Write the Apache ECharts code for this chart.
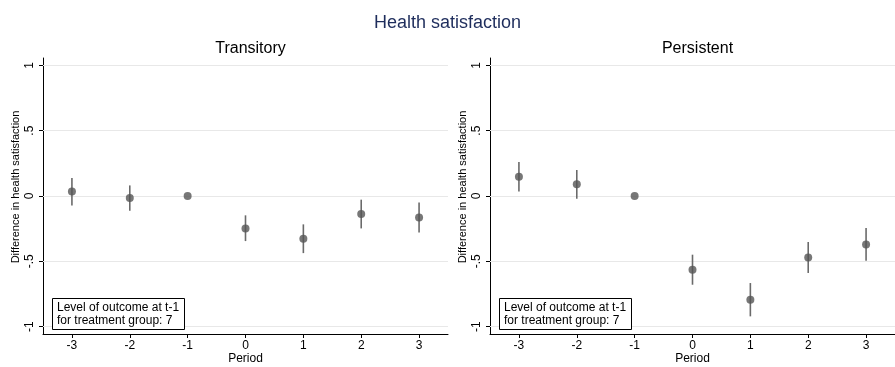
<!DOCTYPE html>
<html>
<head>
<meta charset="utf-8">
<script src="https://cdn.jsdelivr.net/npm/echarts@6/dist/echarts.min.js"></script>
<style>
html,body{margin:0;padding:0;background:#fff;}
#chart{width:895px;height:367px;}
</style>
</head>
<body>
<div id="chart"></div>
<script>
// ---- data ----
const periods = [-3, -2, -1, 0, 1, 2, 3];
const transEst = [0.035, -0.015, 0, -0.248, -0.327, -0.138, -0.164];
const transLo  = [-0.072, -0.113, null, -0.345, -0.437, -0.248, -0.279];
const transHi  = [0.138, 0.081, null, -0.148, -0.217, -0.028, -0.049];
const persEst  = [0.148, 0.089, 0, -0.564, -0.794, -0.470, -0.371];
const persLo   = [0.035, -0.021, null, -0.679, -0.921, -0.589, -0.495];
const persHi   = [0.260, 0.199, null, -0.449, -0.666, -0.352, -0.245];
const yTicks = [-1, -0.5, 0, 0.5, 1];
const xTicks = [-3, -2, -1, 0, 1, 2, 3];
const panelTitles = ['Transitory', 'Persistent'];
const mainTitle = 'Health satisfaction';
const noteText = 'Level of outcome at t-1\nfor treatment group: 7';
const yName = 'Difference in health satisfaction';
const xName = 'Period';

const FONT = '"Liberation Sans", Arial, Helvetica, sans-serif';
const grids = [
  {left: 43, top: 58, width: 405, bottom: 33, outerBoundsMode: 'none', containLabel: false},
  {left: 490, top: 58, width: 405, bottom: 33, outerBoundsMode: 'none', containLabel: false}
];
const fmtY = v => {
  let s = String(v);
  return s.replace(/^0\./, '.').replace(/^-0\./, '-.');
};

function makeX(i) {
  return {
    type: 'value', gridIndex: i, min: -3.5, max: 3.5,
    name: xName, nameLocation: 'middle', nameGap: 19, nameMoveOverlap: false,
    nameTextStyle: {fontFamily: FONT, fontSize: 12, color: '#000'},
    axisLine: {show: true, onZero: false, lineStyle: {color: '#000', width: 1}},
    axisTick: {show: true, length: 4, customValues: xTicks, lineStyle: {color: '#000'}},
    axisLabel: {customValues: xTicks, margin: 6, fontFamily: FONT, fontSize: 12, color: '#000'},
    splitLine: {show: false}
  };
}
function makeY(i) {
  return {
    type: 'value', gridIndex: i, min: -1.056, max: 1.056,
    name: yName, nameLocation: 'middle', nameGap: 22,
    nameTextStyle: {fontFamily: FONT, fontSize: 11, color: '#000', padding: [0, 0, 0, 18]},
    axisLine: {show: true, onZero: false, lineStyle: {color: '#000', width: 1}},
    axisTick: {show: true, length: 4, customValues: yTicks, lineStyle: {color: '#000'}},
    axisLabel: {customValues: yTicks, rotate: 90, margin: 7, fontFamily: FONT, fontSize: 12, color: '#000', formatter: fmtY},
    splitLine: {show: false}
  };
}
function ciSeries(i, lo, hi) {
  const data = [];
  periods.forEach((p, k) => { if (lo[k] !== null) data.push([p, lo[k], hi[k]]); });
  return {
    type: 'custom', xAxisIndex: i, yAxisIndex: i, silent: true, z: 3,
    data: data,
    encode: {x: 0, y: [1, 2]},
    renderItem: function (params, api) {
      const a = api.coord([api.value(0), api.value(1)]);
      const b = api.coord([api.value(0), api.value(2)]);
      return {type: 'line', shape: {x1: a[0], y1: a[1], x2: b[0], y2: b[1]},
        style: {stroke: '#6a6a6a', lineWidth: 1.6}};
    }
  };
}
function ptSeries(i, est) {
  return {
    type: 'scatter', xAxisIndex: i, yAxisIndex: i, z: 4,
    symbol: 'circle', symbolSize: 8,
    itemStyle: {color: '#555555'},
    data: periods.map((p, k) => [p, est[k]]),
    markLine: {
      silent: true, symbol: 'none', label: {show: false}, z: 1,
      lineStyle: {color: '#e8e8e8', width: 1, type: 'solid'},
      data: yTicks.map(v => ({yAxis: v}))
    }
  };
}

const chart = echarts.init(document.getElementById('chart'), null, {renderer: 'canvas'});
chart.setOption({
  animation: false,
  backgroundColor: '#fff',
  title: [
    {text: mainTitle, left: 'center', top: 9, textStyle: {fontFamily: FONT, fontSize: 18, fontWeight: 'normal', color: '#1e2d5c'}},
    {text: panelTitles[0], left: 245.5, textAlign: 'center', top: 36, textStyle: {fontFamily: FONT, fontSize: 16, fontWeight: 'normal', color: '#000'}},
    {text: panelTitles[1], left: 692.5, textAlign: 'center', top: 36, textStyle: {fontFamily: FONT, fontSize: 16, fontWeight: 'normal', color: '#000'}},
    {text: noteText, left: 52, top: 298, padding: [3, 6, 3, 5], borderWidth: 1, borderColor: '#000', backgroundColor: '#fff',
      textStyle: {fontFamily: FONT, fontSize: 12, lineHeight: 13, fontWeight: 'normal', color: '#000'}},
    {text: noteText, left: 499, top: 298, padding: [3, 6, 3, 5], borderWidth: 1, borderColor: '#000', backgroundColor: '#fff',
      textStyle: {fontFamily: FONT, fontSize: 12, lineHeight: 13, fontWeight: 'normal', color: '#000'}}
  ],
  grid: grids,
  xAxis: [makeX(0), makeX(1)],
  yAxis: [makeY(0), makeY(1)],
  series: [
    ciSeries(0, transLo, transHi), ptSeries(0, transEst),
    ciSeries(1, persLo, persHi), ptSeries(1, persEst)
  ]
});
</script>
</body>
</html>
